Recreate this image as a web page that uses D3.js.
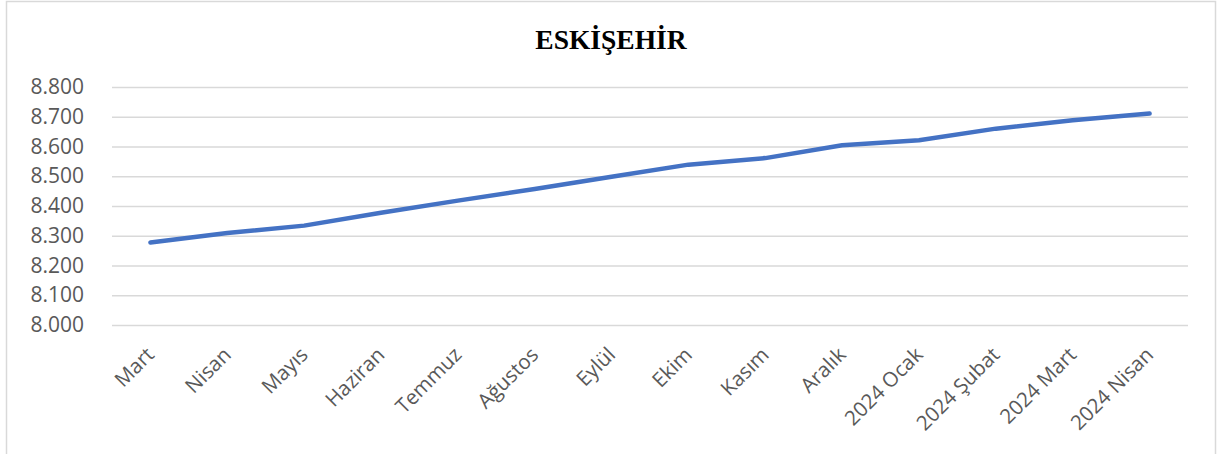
<!DOCTYPE html>
<html><head><meta charset="utf-8">
<script src="https://cdn.jsdelivr.net/npm/d3@7"></script>
<style>body{margin:0;background:#fff;}svg{display:block;}</style>
</head><body>
<svg id="chart" width="1217" height="454"></svg>
<script>
const categories = ["Mart","Nisan","Mayıs","Haziran","Temmuz","Ağustos","Eylül","Ekim","Kasım","Aralık","2024 Ocak","2024 Şubat","2024 Mart","2024 Nisan"];
const values = [8.277, 8.309, 8.334, 8.377, 8.418, 8.457, 8.498, 8.539, 8.561, 8.604, 8.621, 8.660, 8.688, 8.711];
const yTicks = [8.0, 8.1, 8.2, 8.3, 8.4, 8.5, 8.6, 8.7, 8.8];
const title = "ESKİŞEHİR";

const svg = d3.select("#chart");
svg.append("rect").attr("x",6.5).attr("y",1.5).attr("width",1209).attr("height",470)
  .attr("fill","#fff").attr("stroke","#d9d9d9").attr("stroke-width",1.5);

svg.append("text").attr("x",611).attr("y",49).attr("text-anchor","middle")
  .attr("font-family","'Liberation Serif','Times New Roman',serif").attr("font-weight","bold")
  .attr("font-size",27.5).attr("fill","#000").text(title);

const x = d3.scaleBand().domain(categories).range([112,1188]);
const y = d3.scaleLinear().domain([8.0,8.8]).range([325,87]);
const fmt = d => d3.format(".3f")(d);

const yAxis = svg.append("g").attr("transform","translate(112,0)")
  .call(d3.axisLeft(y).tickValues(yTicks).tickSize(-1076).tickPadding(28).tickFormat(fmt));
yAxis.select(".domain").remove();
yAxis.selectAll("line").attr("stroke","#d9d9d9").attr("stroke-width",1.5);
yAxis.selectAll("text").attr("font-family","'Open Sans',sans-serif").attr("font-size",21).attr("fill","#595959");

const xAxis = svg.append("g").attr("transform","translate(0,325)")
  .call(d3.axisBottom(x).tickSize(0).tickPadding(0));
xAxis.select(".domain").remove();
xAxis.selectAll("text")
  .attr("font-family","'Open Sans',sans-serif").attr("font-size",20.5).attr("fill","#595959")
  .attr("text-anchor","end").attr("dy",0)
  .attr("transform","translate(5,31) rotate(-45)");

const line = d3.line().x((d,i)=>x(categories[i])+x.bandwidth()/2).y(d=>y(d));
svg.append("path").datum(values).attr("d",line).attr("fill","none")
  .attr("stroke","#4472C4").attr("stroke-width",4.5).attr("stroke-linecap","round").attr("stroke-linejoin","round");
</script>
</body></html>
